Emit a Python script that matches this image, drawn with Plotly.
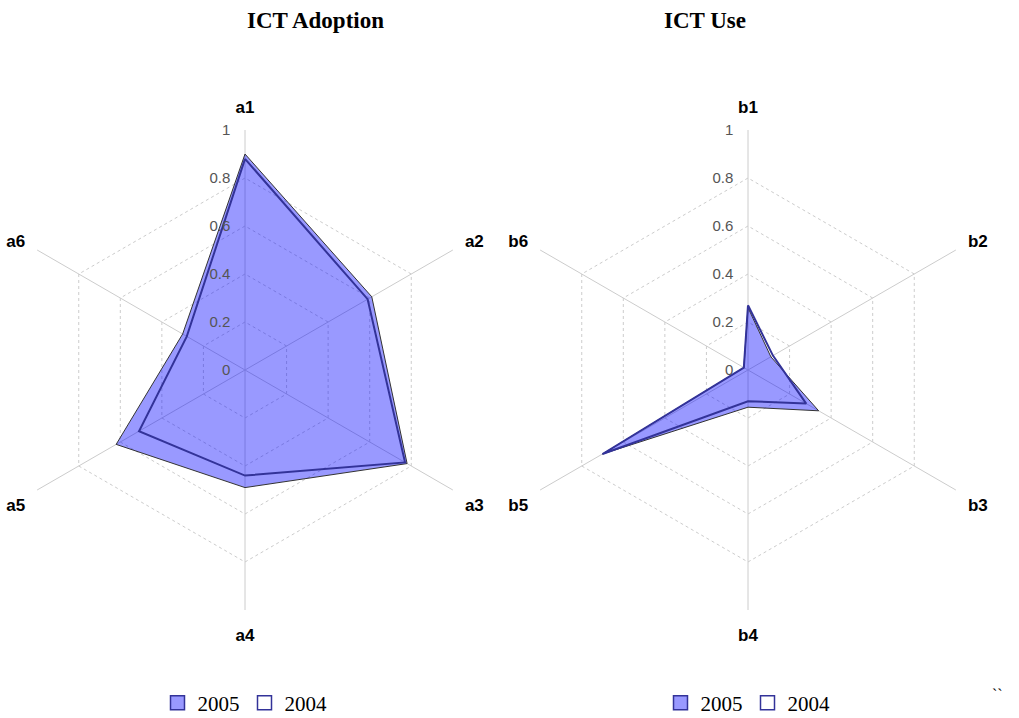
import plotly.graph_objects as go

adopt_cats = ["a1", "a2", "a3", "a4", "a5", "a6"]
adopt_2005 = [0.90, 0.61, 0.78, 0.49, 0.62, 0.30]
adopt_2004 = [0.88, 0.59, 0.77, 0.44, 0.51, 0.28]

use_cats = ["b1", "b2", "b3", "b4", "b5", "b6"]
use_2005 = [0.26, 0.11, 0.34, 0.155, 0.70, 0.02]
use_2004 = [0.27, 0.12, 0.28, 0.13, 0.70, 0.02]

r_ticks = [0, 0.2, 0.4, 0.6, 0.8, 1]
# padded with figure/punctuation spaces so labels line up on the right
r_ticktext = ["\u2007\u20080", "0.2", "0.4", "0.6", "0.8", "\u2007\u20081"]

fill_2005 = "rgba(0,0,255,0.4)"
line_2004 = "#333399"

fig = go.Figure()


def close(v):
    return list(v) + [v[0]]


for cats, v05, v04, sub, leg in [
    (adopt_cats, adopt_2005, adopt_2004, "polar", "legend"),
    (use_cats, use_2005, use_2004, "polar2", "legend2"),
]:
    fig.add_trace(go.Scatterpolar(
        r=close(v05), theta=close(cats), name="2005", fill="toself",
        fillcolor=fill_2005, line=dict(color="#333333", width=1),
        mode="lines", subplot=sub, showlegend=False,
    ))
    fig.add_trace(go.Scatterpolar(
        r=close(v04), theta=close(cats), name="2004", fill="toself",
        fillcolor="rgba(255,255,255,0)", line=dict(color=line_2004, width=2),
        mode="lines", subplot=sub, showlegend=False,
    ))
    # legend-only boxes
    fig.add_trace(go.Scatterpolar(
        r=[None], theta=[cats[0]], name="2005", mode="markers", subplot=sub, legend=leg,
        marker=dict(symbol="square", size=14, color="#9999ff", line=dict(color=line_2004, width=1.5)),
    ))
    fig.add_trace(go.Scatterpolar(
        r=[None], theta=[cats[0]], name="2004", mode="markers", subplot=sub, legend=leg,
        marker=dict(symbol="square", size=14, color="white", line=dict(color=line_2004, width=1.5)),
    ))

polar_style = dict(
    bgcolor="white",
    gridshape="linear",
    radialaxis=dict(
        range=[0, 1.0001], tickmode="array", tickvals=r_ticks, ticktext=r_ticktext,
        angle=90, showline=False,
        tickfont=dict(family="Liberation Sans", size=15, color="#555555"),
        gridcolor="#cccccc", griddash="3px,3px", tickangle=90,
        ticks="outside", ticklen=9, tickcolor="rgba(0,0,0,0)",
        side="counterclockwise",
    ),
    angularaxis=dict(
        direction="clockwise", rotation=90, showline=False,
        gridcolor="#cccccc", ticks="outside", ticklen=10, tickcolor="rgba(0,0,0,0)",
        tickfont=dict(family="Liberation Sans", size=17, color="black", weight="bold"),
    ),
)

W, H = 1019, 718
R = 240
legend_style = dict(orientation="h", xanchor="center", y=(H - 703) / H, yanchor="middle",
                    font=dict(family="Liberation Serif", size=21, color="black"),
                    itemwidth=30, tracegroupgap=0)
fig.update_layout(
    width=W, height=H,
    margin=dict(l=0, r=0, t=0, b=0, autoexpand=False),
    paper_bgcolor="white",
    polar=dict(domain=dict(x=[(245 - R) / W, (245 + R) / W], y=[(H - 610) / H, (H - 130) / H]), **polar_style),
    polar2=dict(domain=dict(x=[(748 - R) / W, (748 + R) / W], y=[(H - 610) / H, (H - 130) / H]), **polar_style),
    legend=dict(x=245 / W, **legend_style),
    legend2=dict(x=748 / W, **legend_style),
    annotations=[
        dict(text="<b>ICT Adoption</b>", x=245 / W, y=(H - 20) / H, xref="paper", yref="paper",
             yanchor="middle", showarrow=False,
             font=dict(family="Liberation Serif", size=23, color="black")),
        dict(text="<b>ICT Use</b>", x=748 / W, y=(H - 20) / H, xref="paper", yref="paper",
             yanchor="middle", showarrow=False,
             font=dict(family="Liberation Serif", size=23, color="black")),
        dict(text="``", x=1005 / W, y=(H - 705) / H, xref="paper", yref="paper",
             showarrow=False, font=dict(family="Liberation Serif", size=16, color="black")),
    ],
)

fig.write_html("out.html", config={"displayModeBar": False},
               post_script="document.body.style.margin='0';")
